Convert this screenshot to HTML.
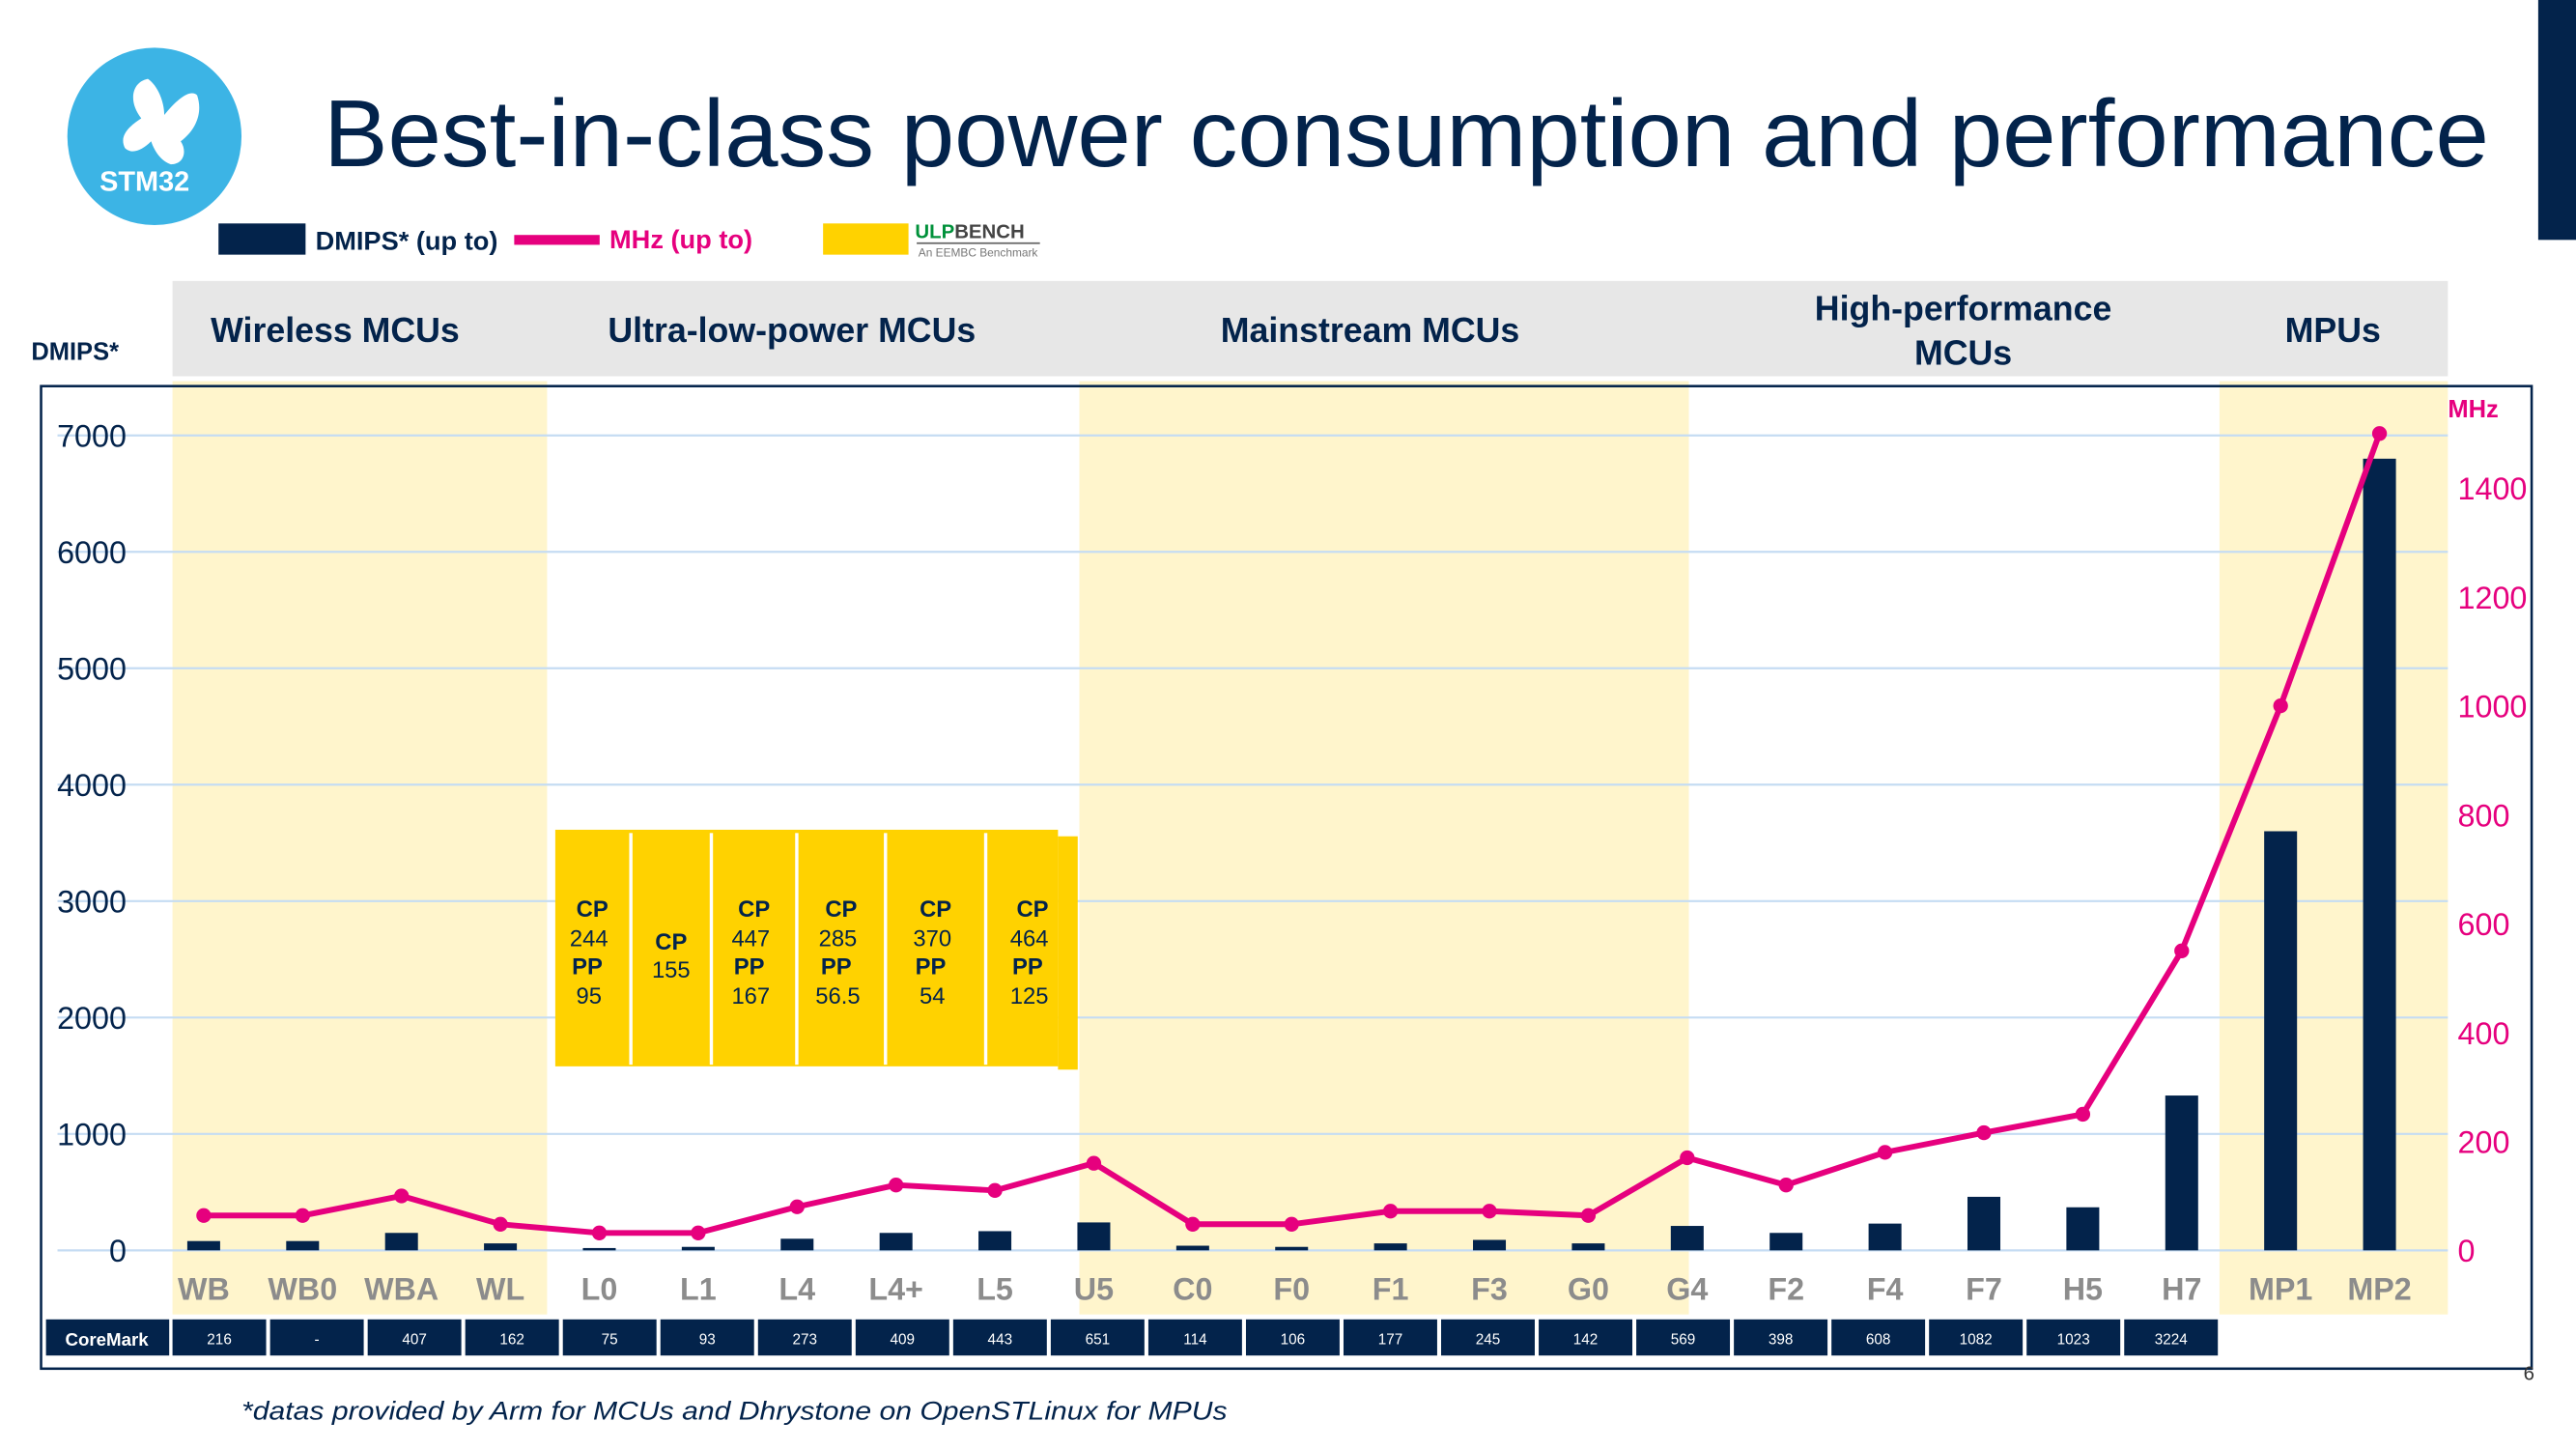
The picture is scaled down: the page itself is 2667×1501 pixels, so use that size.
<!DOCTYPE html>
<html><head><meta charset="utf-8"><style>
html,body{margin:0;padding:0;background:#fff;}
svg{display:block;font-family:"Liberation Sans",Arial,sans-serif;}
</style></head><body>
<svg id="chart" width="2667" height="1501" viewBox="0 0 1568 882.5" preserveAspectRatio="none" xmlns="http://www.w3.org/2000/svg">
  <rect x="1545" y="0" width="23" height="146" fill="#03234b"/>
  <g>
    <ellipse cx="94" cy="83" rx="53" ry="54" fill="#3cb4e5"/>
    <path d="M90 48 C96 52 100 62 100 70 C108 60 116 54 120 58 C124 70 118 80 110 86 C114 92 112 100 104 100 C98 98 94 92 92 86 C86 92 80 94 76 90 C72 82 80 76 86 72 C78 62 80 50 90 48Z" fill="#fff"/>
    <text x="88" y="116" font-size="17" font-weight="bold" fill="#fff" text-anchor="middle">STM32</text>
  </g>
  <text x="197" y="101" font-size="58" fill="#03234b" textLength="1318" lengthAdjust="spacingAndGlyphs">Best-in-class power consumption and performance</text>
  <g>
    <rect x="133" y="136" width="53" height="19" fill="#03234b"/>
    <text x="192" y="152" font-size="16" font-weight="bold" fill="#03234b">DMIPS* (up to)</text>
    <rect x="313" y="143" width="52" height="6" fill="#e6007e"/>
    <text x="371" y="151" font-size="16" font-weight="bold" fill="#e6007e">MHz (up to)</text>
    <rect x="501" y="136" width="52" height="19" fill="#ffd200"/>
    <text x="557" y="145" font-size="12" font-weight="bold" fill="#00913a">ULP<tspan fill="#444">BENCH</tspan></text>
    <line x1="558" y1="148" x2="633" y2="148" stroke="#666" stroke-width="1"/>
    <text x="559" y="156" font-size="7" fill="#777">An EEMBC Benchmark</text>
  </g>
  <rect x="105" y="171" width="1385" height="58" fill="#e7e7e7"/>
  <g font-size="21" font-weight="bold" fill="#03234b" text-anchor="middle">
    <text x="204" y="208">Wireless MCUs</text>
    <text x="482" y="208">Ultra-low-power MCUs</text>
    <text x="834" y="208">Mainstream MCUs</text>
    <text x="1195" y="195">High-performance</text>
    <text x="1195" y="222">MCUs</text>
    <text x="1420" y="208">MPUs</text>
  </g>
  <text x="19" y="219" font-size="15" font-weight="bold" fill="#03234b">DMIPS*</text>
  <text x="1490" y="254" font-size="15" font-weight="bold" fill="#e6007e">MHz</text>
  <g id="bands"></g>
  <rect x="25" y="235" width="1516" height="598" fill="none" stroke="#03234b" stroke-width="1.5"/>
  <g id="grid"></g>
  <g id="ulp"></g>
  <g id="bars"></g>
  <g id="line"></g>
  <g id="labels"></g>
  <g id="coremark"></g>
  <text x="147" y="864" font-size="16" font-style="italic" fill="#03234b" textLength="600" lengthAdjust="spacingAndGlyphs">*datas provided by Arm for MCUs and Dhrystone on OpenSTLinux for MPUs</text>
  <text x="1536" y="840" font-size="12" fill="#333">6</text>
</svg>
<script>
const categories=["WB","WB0","WBA","WL","L0","L1","L4","L4+","L5","U5","C0","F0","F1","F3","G0","G4","F2","F4","F7","H5","H7","MP1","MP2"];
const dmips=[80,80,150,60,20,30,100,150,165,240,40,30,60,90,60,210,150,230,460,370,1330,3600,6800];
const mhz=[64,64,100,48,32,32,80,120,110,160,48,48,72,72,64,170,120,180,216,250,550,1000,1500];
const coremark=["216","-","407","162","75","93","273","409","443","651","114","106","177","245","142","569","398","608","1082","1023","3224"];
const leftTicks=[0,1000,2000,3000,4000,5000,6000,7000];
const rightTicks=[0,200,400,600,800,1000,1200,1400];
const ulpCP=["244","155","447","285","370","464"];
const ulpPP=["95","","167","56.5","54","125"];
const NS="http://www.w3.org/2000/svg";
function mk(p,t,a,txt){const e=document.createElementNS(NS,t);for(const k in a)e.setAttribute(k,a[k]);if(txt!==undefined)e.textContent=txt;p.appendChild(e);return e;}
const x=i=>124+i*60.2;
const yL=v=>761-v*(496/7000);
const yR=v=>761-v*(464/1400);
const bands=document.getElementById('bands');
[[105,333],[657,1028],[1351,1490]].forEach(b=>{const r=mk(bands,'rect',{x:b[0],y:232,width:b[1]-b[0],height:568,fill:'#fff5cc'});

});
const grid=document.getElementById('grid');
leftTicks.forEach(t=>{const l=mk(grid,'line',{x1:35,x2:1490,y1:yL(t),y2:yL(t),stroke:'#c5dcf3','stroke-width':1.3});


const tx=mk(grid,'text',{x:77,y:yL(t)+7,'font-size':19,fill:'#03234b','text-anchor':'end'},t);

});
rightTicks.forEach(t=>{const tx=mk(grid,'text',{x:1496,y:yR(t)+7,'font-size':19,fill:'#e6007e'},t);

});
const ulp=document.getElementById('ulp');
mk(ulp,'rect',{x:338,y:505,width:306,height:144,fill:'#ffd200'});
mk(ulp,'rect',{x:644,y:509,width:12,height:142,fill:'#ffd200'});
const seps=[383,432,484,538,599];
seps.forEach(s=>mk(ulp,'rect',{x:s,y:507,width:2,height:141,fill:'#fff'}));
const cellL=[338,385,434,486,540,601],cellR=[383,432,484,538,599,656];
ulpCP.forEach((cp,i)=>{const cx=(cellL[i]+cellR[i])/2;const g=mk(ulp,'g',{'font-size':14,fill:'#03234b','text-anchor':'middle'});


if(ulpPP[i]){mk(g,'text',{x:cx,y:558,'font-weight':'bold'},'CP');mk(g,'text',{x:cx-2,y:576},cp);mk(g,'text',{x:cx-3,y:593,'font-weight':'bold'},'PP');mk(g,'text',{x:cx-2,y:611},ulpPP[i]);}
else{mk(g,'text',{x:cx,y:578,'font-weight':'bold'},'CP');mk(g,'text',{x:cx,y:595},cp);}});
const bars=document.getElementById('bars');
dmips.forEach((v,i)=>{const r=mk(bars,'rect',{x:x(i)-10,y:yL(v),width:20,height:761-yL(v),fill:'#03234b'});

});
const lg=document.getElementById('line');
const pl=mk(lg,'polyline',{points:mhz.map((v,i)=>x(i)+','+yR(v)).join(' '),fill:'none',stroke:'#e6007e','stroke-width':3.5,'stroke-linejoin':'round'});


mhz.forEach((v,i)=>{const c=mk(lg,'circle',{cx:x(i),cy:yR(v),r:4.5,fill:'#e6007e'});

});
const lab=document.getElementById('labels');
categories.forEach((c,i)=>{const t=mk(lab,'text',{x:x(i),y:791,'font-size':19,'font-weight':'bold',fill:'#8c8c8c','text-anchor':'middle'},c);

});
const cm=document.getElementById('coremark');
mk(cm,'rect',{x:28,y:803,width:75,height:22,fill:'#03234b'});
const h=mk(cm,'text',{x:65,y:819,'font-size':11,'font-weight':'bold',fill:'#fff','text-anchor':'middle'},'CoreMark');


coremark.forEach((v,i)=>{const cx=133.5+i*59.4;const r=mk(cm,'rect',{x:cx-28.5,y:803,width:57,height:22,fill:'#03234b'});


const t=mk(cm,'text',{x:cx,y:818,'font-size':9,fill:'#fff','text-anchor':'middle'},v);

});
</script>
</body></html>
